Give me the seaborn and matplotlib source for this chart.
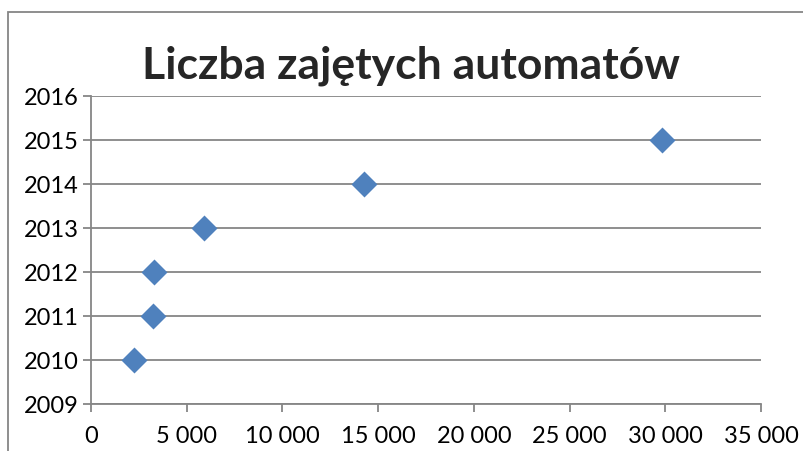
import matplotlib.pyplot as plt
import pandas as pd
import seaborn as sns
from matplotlib.patches import Rectangle
from matplotlib.ticker import FuncFormatter, MultipleLocator

# Values
years = [2010, 2011, 2012, 2013, 2014, 2015]
occupied = [2250, 3240, 3290, 5900, 14260, 29830]

TITLE = "Liczba zajętych automatów"
GRID = "#868686"
BLUE = "#4F81BD"

sns.set_theme(style="white")
plt.rcParams["font.family"] = ["Lato", "DejaVu Sans"]

data = pd.DataFrame({"Liczba": occupied, "Rok": years})

figure = plt.figure(figsize=(8.04, 4.52), dpi=100)
axis = figure.add_axes([91 / 804, 1 - 405 / 452, 670 / 804, 308 / 452])

sns.scatterplot(
    data=data,
    x="Liczba",
    y="Rok",
    marker="D",
    s=175,
    color=BLUE,
    edgecolor=BLUE,
    linewidth=0,
    ax=axis,
    zorder=3,
)

axis.set_xlim(0, 35000)
axis.set_ylim(2009, 2016)
axis.xaxis.set_major_locator(MultipleLocator(5000))
axis.yaxis.set_major_locator(MultipleLocator(1))
axis.xaxis.set_major_formatter(
    FuncFormatter(lambda v, _: f"{int(v):,}".replace(",", " "))
)
axis.yaxis.set_major_formatter(FuncFormatter(lambda v, _: f"{int(v)}"))
axis.set(xlabel="", ylabel="")

axis.grid(axis="y", color=GRID, linewidth=1.3)
axis.grid(axis="x", visible=False)
for side in ("top", "right"):
    axis.spines[side].set_visible(False)
for side in ("left", "bottom"):
    axis.spines[side].set_color(GRID)
    axis.spines[side].set_linewidth(1.3)
axis.tick_params(
    axis="both",
    which="major",
    direction="out",
    length=6,
    width=1.3,
    color=GRID,
    labelsize=17,
    labelcolor="black",
    bottom=True,
    left=True,
)
axis.tick_params(axis="x", pad=9)
axis.tick_params(axis="y", pad=3)

figure.text(
    411 / 804,
    1 - 66 / 452,
    TITLE,
    ha="center",
    va="center",
    fontsize=32,
    fontweight="bold",
)

figure.patches.append(
    Rectangle(
        (8 / 804, -0.1),
        1.2,
        1 - 13 / 452 + 0.1,
        transform=figure.transFigure,
        fill=False,
        edgecolor=GRID,
        linewidth=1.3,
    )
)

figure.savefig("out.png", dpi=100)
